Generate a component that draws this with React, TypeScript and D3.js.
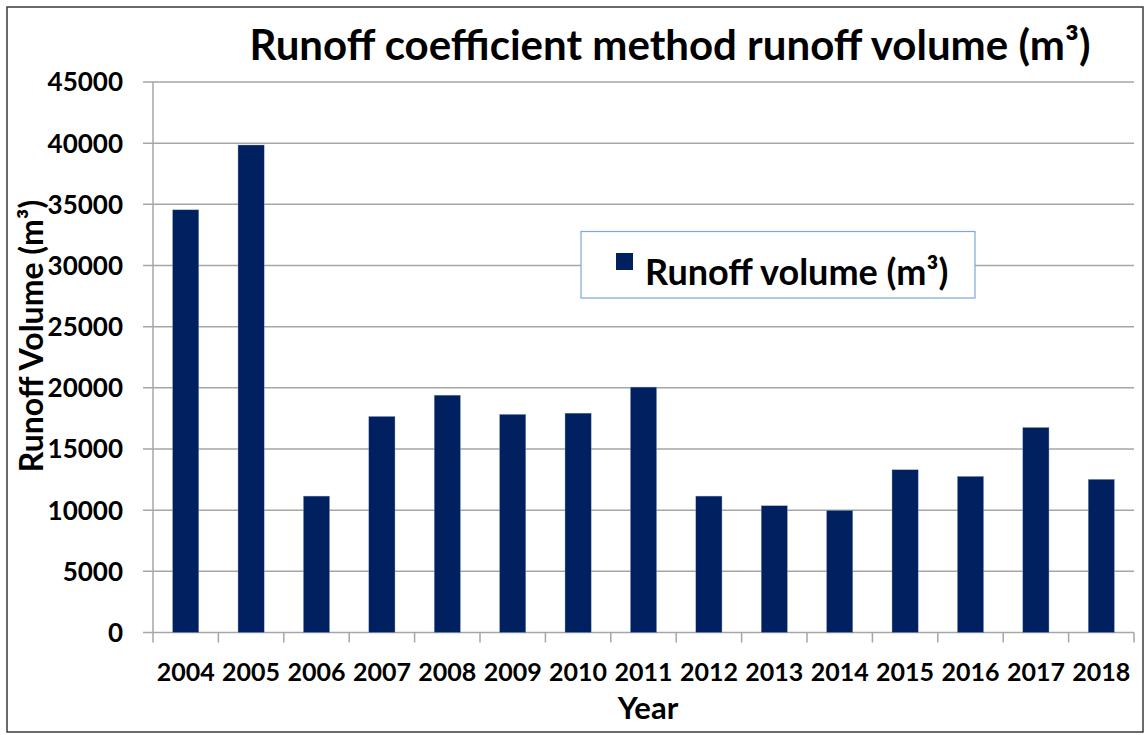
import React from 'react';
import { scaleBand, scaleLinear, range } from 'd3';

const years = ['2004', '2005', '2006', '2007', '2008', '2009', '2010', '2011', '2012', '2013', '2014', '2015', '2016', '2017', '2018'];
const runoffVolume = [34550, 39850, 11150, 17660, 19400, 17830, 17930, 20060, 11150, 10360, 9980, 13300, 12760, 16760, 12520];
const yTicks = [0, 5000, 10000, 15000, 20000, 25000, 30000, 35000, 40000, 45000];

const W = 1146;
const H = 735;
const left = 153;
const right = 1134;
const top = 82;
const bottom = 632.5;
const font = 'Lato, "Open Sans", sans-serif';
const barColor = '#002060';
const gridColor = '#a6a6a6';

export default function App() {
  const x = scaleBand<string>()
    .domain(years)
    .range([left, right])
    .paddingInner(0.6)
    .paddingOuter(0.3);
  const y = scaleLinear().domain([0, 45000]).range([bottom, top]);
  const step = x.step();
  const boundaries = range(years.length + 1).map(i => left + i * step);

  return (
    <svg width={W} height={H} style={{ position: 'absolute', left: 0, top: 0 }}>
      <rect x={0} y={0} width={W} height={H} fill="#fff" />
      <rect x={7} y={7} width={W - 10} height={H - 10} fill="none" stroke="#3a3a3a" strokeWidth={1.5} />

      <text x={670} y={60} textAnchor="middle" fontFamily={font} fontWeight="bold" fontSize={42} fill="#000">
        Runoff coefficient method runoff volume (m³)
      </text>

      {yTicks.map(t => (
        <g key={t}>
          <line x1={left - 10} x2={right} y1={y(t)} y2={y(t)} stroke={gridColor} strokeWidth={1.5} />
          <text x={123} y={y(t)} dy="0.36em" textAnchor="end" fontFamily={font} fontWeight="bold" fontSize={26} fill="#000">
            {t}
          </text>
        </g>
      ))}

      <line x1={left} x2={left} y1={top} y2={bottom} stroke={gridColor} strokeWidth={1.5} />
      {boundaries.map((b, i) => (
        <line key={i} x1={b} x2={b} y1={bottom} y2={bottom + 10} stroke={gridColor} strokeWidth={1.5} />
      ))}

      {years.map((yr, i) => (
        <rect key={yr} x={x(yr)} y={y(runoffVolume[i])} width={x.bandwidth()} height={bottom - y(runoffVolume[i])} fill={barColor} stroke="#8ea0c8" strokeWidth={0.4} />
      ))}

      {years.map(yr => (
        <text key={yr} x={(x(yr) as number) + x.bandwidth() / 2} y={681} textAnchor="middle" fontFamily={font} fontWeight="bold" fontSize={25} fill="#000">
          {yr}
        </text>
      ))}

      <text x={648} y={719} textAnchor="middle" fontFamily={font} fontWeight="bold" fontSize={31} fill="#000">
        Year
      </text>
      <text transform={`translate(43, 336) rotate(-90)`} textAnchor="middle" fontFamily={font} fontWeight="bold" fontSize={32} fill="#000">
        Runoff Volume (m³)
      </text>

      <g>
        <rect x={581} y={231.5} width={394} height={66.5} fill="#fff" stroke="#7fa7d9" strokeWidth={1.2} />
        <rect x={616} y={253} width={17} height={17} fill={barColor} />
        <text x={645} y={278} dy="0.2em" fontFamily={font} fontWeight="bold" fontSize={36} fill="#000">
          Runoff volume (m³)
        </text>
      </g>
    </svg>
  );
}
